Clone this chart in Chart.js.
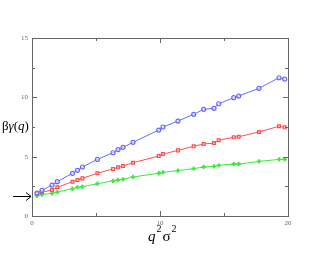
<!DOCTYPE html>
<html>
<head>
<meta charset="utf-8">
<script src="https://cdn.jsdelivr.net/npm/chart.js@4/dist/chart.umd.min.js"></script>
<style>
  html, body { margin: 0; padding: 0; background: #fff; }
  #wrap { width: 325px; height: 255px; }
</style>
</head>
<body>
<div id="wrap"><canvas id="c" width="325" height="255"></canvas></div>
<script>
// q^2 sigma^2 values (shared by all three curves)
const qs2 = [0.39, 0.78, 1.56, 1.98, 3.16, 3.55, 3.94, 5.11, 6.33, 6.72, 7.11, 7.89,
             9.9, 10.23, 11.4, 12.63, 13.41, 14.22, 14.59, 15.76, 16.15, 17.73, 19.3, 19.74];
const blueVals  = [1.93, 2.16, 2.61, 2.89, 3.6, 3.85, 4.13, 4.77, 5.33, 5.6, 5.79, 6.21,
                   7.24, 7.5, 8.0, 8.57, 8.99, 9.07, 9.46, 9.97, 10.11, 10.76, 11.65, 11.54];
const redVals   = [1.85, 2.0, 2.19, 2.42, 2.89, 3.03, 3.17, 3.6, 3.97, 4.1, 4.21, 4.49,
                   5.05, 5.22, 5.53, 5.87, 6.07, 6.15, 6.38, 6.63, 6.68, 7.08, 7.56, 7.47];
const greenVals = [1.71, 1.8, 1.91, 2.02, 2.3, 2.42, 2.47, 2.72, 2.96, 3.03, 3.09, 3.29,
                   3.6, 3.68, 3.82, 3.99, 4.13, 4.18, 4.27, 4.38, 4.38, 4.6, 4.77, 4.77];
const xTicks = [0, 10, 20];
const yTicks = [0, 5, 10, 15];
const xMinor = [5, 15];
const yMinor = [2.5, 7.5, 12.5];
const arrowY = 1.72;

const pts = vals => vals.map((v, i) => ({ x: qs2[i], y: v }));

// frame, inward ticks, arrow and axis labels
const decor = {
    id: 'decor',
    afterDraw(chart) {
        const ctx = chart.ctx;
        const a = chart.chartArea;
        const xs = chart.scales.x, ys = chart.scales.y;
        ctx.save();
        ctx.strokeStyle = '#666';
        ctx.lineWidth = 1;
        ctx.strokeRect(Math.round(a.left) + 0.5, Math.round(a.top) + 0.5,
                       Math.round(a.right - a.left), Math.round(a.bottom - a.top));
        ctx.beginPath();
        const tick = (len, v, horiz) => {
            if (horiz) {
                const px = Math.round(xs.getPixelForValue(v)) + 0.5;
                ctx.moveTo(px, a.bottom); ctx.lineTo(px, a.bottom - len);
                ctx.moveTo(px, a.top); ctx.lineTo(px, a.top + len);
            } else {
                const py = Math.round(ys.getPixelForValue(v)) + 0.5;
                ctx.moveTo(a.left, py); ctx.lineTo(a.left + len, py);
                ctx.moveTo(a.right, py); ctx.lineTo(a.right - len, py);
            }
        };
        xTicks.forEach(v => tick(5, v, true));
        xMinor.forEach(v => tick(3, v, true));
        yTicks.forEach(v => tick(5, v, false));
        yMinor.forEach(v => tick(3, v, false));
        ctx.stroke();

        // arrow on the left
        const ay = Math.round(ys.getPixelForValue(arrowY)) + 0.5;
        ctx.strokeStyle = '#000';
        ctx.beginPath();
        ctx.moveTo(13, ay); ctx.lineTo(31, ay);
        ctx.moveTo(26, ay - 4); ctx.lineTo(31, ay); ctx.lineTo(26, ay + 4);
        ctx.stroke();

        // y label: beta gamma(q)
        ctx.fillStyle = '#000';
        ctx.textBaseline = 'alphabetic';
        ctx.font = '13px "Liberation Serif"';
        let x = 2;
        const yb = 130;
        ctx.fillText('β', x, yb); x += ctx.measureText('β').width;
        ctx.font = 'italic 13px "Liberation Serif"';
        ctx.fillText('γ', x, yb); x += ctx.measureText('γ').width;
        ctx.font = '13px "Liberation Serif"';
        ctx.fillText('(', x, yb); x += ctx.measureText('(').width;
        ctx.font = 'italic 13px "Liberation Serif"';
        ctx.fillText('q', x, yb); x += ctx.measureText('q').width;
        ctx.font = '13px "Liberation Serif"';
        ctx.fillText(')', x, yb);

        // x label: q^2 sigma^2
        x = 148;
        const xb = 241;
        ctx.font = 'italic 15px "Liberation Serif"';
        ctx.fillText('q', x, xb); x += ctx.measureText('q').width + 1;
        ctx.font = '10px "Liberation Serif"';
        ctx.fillText('2', x, xb - 9); x += ctx.measureText('2').width + 1;
        ctx.font = '15px "Liberation Serif"';
        ctx.fillText('σ', x, xb); x += ctx.measureText('σ').width + 1;
        ctx.font = '10px "Liberation Serif"';
        ctx.fillText('2', x, xb - 9);
        ctx.restore();
    }
};

const series = (data, color, style, radius, bw) => ({
    data: pts(data),
    showLine: true,
    borderColor: color,
    backgroundColor: color,
    borderWidth: 1,
    pointStyle: style,
    pointRadius: radius,
    pointBorderColor: color,
    pointBackgroundColor: 'rgba(255,255,255,0.5)',
    pointBorderWidth: bw
});

new Chart(document.getElementById('c'), {
    type: 'scatter',
    data: {
        datasets: [
            series(blueVals, '#6a6aff', 'circle', 2, 1.2),
            series(redVals, '#ff5050', 'rect', 2, 1.2),
            series(greenVals, '#3ee83e', 'cross', 2.2, 1.8)
        ]
    },
    options: {
        responsive: false,
        animation: false,
        layout: { padding: { top: 38, right: 37, left: 0, bottom: 0 } },
        plugins: { legend: { display: false }, tooltip: { enabled: false } },
        scales: {
            x: {
                type: 'linear', min: 0, max: 20,
                afterBuildTicks: s => { s.ticks = xTicks.map(v => ({ value: v })); },
                afterFit: s => { s.height = 39; },
                grid: { display: false, drawTicks: false },
                border: { display: false },
                ticks: { padding: 3, color: '#666', font: { family: 'Liberation Serif', size: 7 }, maxRotation: 0 }
            },
            y: {
                type: 'linear', min: 0, max: 15,
                afterBuildTicks: s => { s.ticks = yTicks.map(v => ({ value: v })); },
                afterFit: s => { s.width = 32; },
                grid: { display: false, drawTicks: false },
                border: { display: false },
                ticks: { padding: 4, color: '#666', font: { family: 'Liberation Serif', size: 7 } }
            }
        }
    },
    plugins: [decor]
});
</script>
</body>
</html>
